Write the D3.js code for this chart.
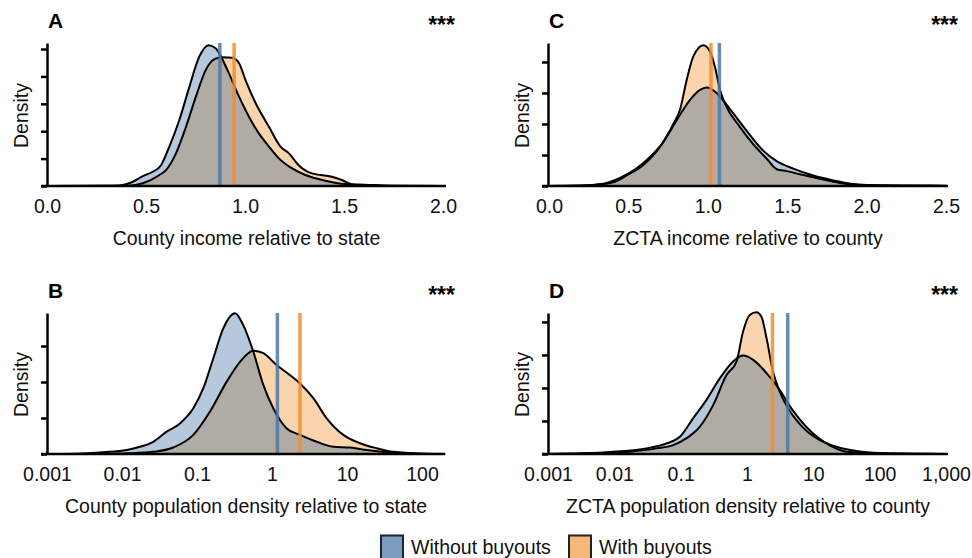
<!DOCTYPE html>
<html>
<head>
<meta charset="utf-8">
<script src="https://cdn.jsdelivr.net/npm/d3@7"></script>
<style>
  html, body { margin: 0; padding: 0; background: #fff; }
  svg { display: block; font-family: "Liberation Sans", Arial, sans-serif; }
</style>
</head>
<body>
<svg id="chart" width="972" height="558"></svg>
<script>
// ---------------- DATA ----------------
// Panel A: County income relative to state  [value, density]
const aWithout = [[0,0],[0.3,0.003],[0.367,0.01],[0.434,0.078],[0.484,0.18],[0.534,0.26],[0.576,0.38],[0.618,0.72],[0.668,1.20],[0.719,1.81],[0.769,2.36],[0.816,2.57],[0.853,2.51],[0.911,2.12],[0.970,1.63],[1.020,1.265],[1.070,0.96],[1.121,0.72],[1.171,0.505],[1.238,0.32],[1.305,0.20],[1.405,0.097],[1.506,0.036],[1.606,0.024],[1.74,0.006],[2.0,0]];
const aWith = [[0,0],[0.41,0.005],[0.484,0.05],[0.568,0.2],[0.601,0.29],[0.652,0.60],[0.702,1.08],[0.752,1.63],[0.802,2.12],[0.844,2.31],[0.886,2.35],[0.936,2.34],[0.970,2.24],[1.003,1.93],[1.054,1.51],[1.121,1.08],[1.179,0.72],[1.221,0.60],[1.271,0.38],[1.338,0.23],[1.439,0.17],[1.489,0.11],[1.539,0.03],[1.6,0.005],[2.0,0]];
const aMeans = { without: 0.873, with: 0.945 };
const aXTicks = [0, 0.5, 1, 1.5, 2];
const aXLabels = ["0.0", "0.5", "1.0", "1.5", "2.0"];
const aYTicks = [0, 0.5, 1, 1.5, 2, 2.5];

// Panel C: ZCTA income relative to county
const cWithout = [[0,0],[0.2,0.005],[0.342,0.035],[0.447,0.13],[0.552,0.285],[0.636,0.47],[0.720,0.71],[0.804,1.06],[0.888,1.39],[0.951,1.55],[0.993,1.59],[1.056,1.50],[1.119,1.31],[1.182,1.10],[1.266,0.82],[1.349,0.57],[1.434,0.40],[1.538,0.28],[1.664,0.17],[1.79,0.09],[1.9,0.035],[2.0,0.015],[2.3,0.008],[2.5,0.005]];
const cWith = [[0,0],[0.1,0.005],[0.279,0.016],[0.405,0.06],[0.489,0.17],[0.594,0.34],[0.699,0.63],[0.783,1.0],[0.825,1.23],[0.867,1.71],[0.909,2.09],[0.972,2.27],[1.014,2.17],[1.045,1.92],[1.077,1.55],[1.108,1.33],[1.203,0.95],[1.287,0.67],[1.371,0.44],[1.434,0.27],[1.497,0.24],[1.58,0.19],[1.707,0.115],[1.83,0.05],[1.95,0.016],[2.2,0.005],[2.5,0.002]];
const cMeans = { without: 1.073, with: 1.02 };
const cXTicks = [0, 0.5, 1, 1.5, 2, 2.5];
const cXLabels = ["0.0", "0.5", "1.0", "1.5", "2.0", "2.5"];
const cYTicks = [0, 0.5, 1, 1.5, 2];

// Panel B: County population density relative to state (log x)
const bWithout = [[0.001,0],[0.0025,0.01],[0.0056,0.05],[0.0116,0.11],[0.0174,0.20],[0.0261,0.34],[0.0394,0.62],[0.0593,0.85],[0.0893,1.27],[0.121,1.82],[0.165,2.66],[0.224,3.49],[0.321,3.91],[0.414,3.58],[0.564,2.84],[0.766,1.92],[1.04,1.27],[1.57,0.71],[2.36,0.53],[3.94,0.34],[6.56,0.20],[11.0,0.18],[18.3,0.11],[33.9,0.05],[63,0.02],[204,0]];
const bWith = [[0.001,0],[0.005,0.005],[0.0126,0.02],[0.0261,0.06],[0.0483,0.18],[0.0893,0.53],[0.149,1.18],[0.249,2.01],[0.374,2.56],[0.564,2.87],[0.766,2.80],[1.15,2.47],[1.74,2.19],[2.36,1.96],[3.56,1.55],[5.36,0.99],[8.93,0.53],[14.9,0.30],[24.9,0.16],[41.4,0.06],[100,0.01],[204,0]];
const bMeans = { without: 1.18, with: 2.36 };
const bXTicks = [0.001, 0.01, 0.1, 1, 10, 100];
const bXLabels = ["0.001", "0.01", "0.1", "1", "10", "100"];
const bYTicks = [0, 1, 2, 3];

// Panel D: ZCTA population density relative to county (log x)
const dWithout = [[0.001,0],[0.00316,0.02],[0.00964,0.07],[0.0306,0.17],[0.0614,0.32],[0.0973,0.52],[0.154,1.08],[0.245,1.64],[0.389,2.29],[0.618,2.80],[0.873,2.98],[1.24,2.85],[1.97,2.45],[3.12,1.94],[4.42,1.45],[6.24,1.05],[9.91,0.62],[17.7,0.26],[31.5,0.07],[100,0.02],[316,0.008],[1000,0]];
const dWith = [[0.001,0],[0.005,0.02],[0.0172,0.07],[0.0434,0.17],[0.0771,0.27],[0.123,0.48],[0.195,0.83],[0.309,1.48],[0.491,2.39],[0.695,2.80],[0.873,3.71],[1.10,4.21],[1.39,4.29],[1.65,4.16],[1.97,3.51],[2.47,2.49],[3.12,1.89],[4.42,1.30],[7.0,0.80],[12.5,0.42],[22.3,0.22],[44.6,0.09],[100,0.03],[316,0.01],[1000,0]];
const dMeans = { without: 4.11, with: 2.42 };
const dXTicks = [0.001, 0.01, 0.1, 1, 10, 100, 1000];
const dXLabels = ["0.001", "0.01", "0.1", "1", "10", "100", "1,000"];
const dYTicks = [0, 1, 2, 3, 4];

const panelLetters = ["A", "B", "C", "D"];
const xTitles = ["County income relative to state", "County population density relative to state",
                 "ZCTA income relative to county", "ZCTA population density relative to county"];
const significance = ["***", "***", "***", "***"];
const legendLabels = ["Without buyouts", "With buyouts"];

// ---------------- STYLE ----------------
const COL = {
  blueFill: "#b6c9dc", orangeFill: "#f9d4ad", overlap: "#b1aba5",
  blueLine: "#4e79a7", orangeLine: "#f28e2b",
  blueSwatch: "#7b9dc0", orangeSwatch: "#f5b77a"
};
const FONT = 19.5;

const svg = d3.select("#chart");

const panels = [
  { id: "A", letter: panelLetters[0], title: xTitles[0], without: aWithout, with: aWith, means: aMeans,
    log: false, domain: [0, 2], range: [47, 443], axisEnd: 446, xTicks: aXTicks, xLabels: aXLabels,
    yTicks: aYTicks, yDomain: [0, 2.61], yRange: [186, 43], left: 47, sig: significance[0], sigX: 455 },
  { id: "B", letter: panelLetters[1], title: xTitles[1], without: bWithout, with: bWith, means: bMeans,
    log: true, domain: [0.001, 100], range: [47, 422], axisEnd: 445, xTicks: bXTicks, xLabels: bXLabels,
    yTicks: bYTicks, yDomain: [0, 3.917], yRange: [454, 313], left: 47, sig: significance[1], sigX: 455 },
  { id: "C", letter: panelLetters[2], title: xTitles[2], without: cWithout, with: cWith, means: cMeans,
    log: false, domain: [0, 2.5], range: [549, 946], axisEnd: 948, xTicks: cXTicks, xLabels: cXLabels,
    yTicks: cYTicks, yDomain: [0, 2.306], yRange: [186, 43], left: 548, sig: significance[2], sigX: 958 },
  { id: "D", letter: panelLetters[3], title: xTitles[3], without: dWithout, with: dWith, means: dMeans,
    log: true, domain: [0.001, 1000], range: [548, 946], axisEnd: 948, xTicks: dXTicks, xLabels: dXLabels,
    yTicks: dYTicks, yDomain: [0, 4.27], yRange: [454, 313], left: 548, sig: significance[3], sigX: 958 }
];

const defs = svg.append("defs");

panels.forEach(p => {
  const x = (p.log ? d3.scaleLog() : d3.scaleLinear()).domain(p.domain).range(p.range);
  const y = d3.scaleLinear().domain(p.yDomain).range(p.yRange);
  const base = y(0);
  const top = p.yRange[1];
  const g = svg.append("g");

  const area = d3.area().x(d => x(d[0])).y0(base).y1(d => y(d[1])).curve(d3.curveMonotoneX);
  const line = d3.line().x(d => x(d[0])).y(d => y(d[1])).curve(d3.curveMonotoneX);

  // fills
  g.append("path").attr("d", area(p.without)).attr("fill", COL.blueFill);
  g.append("path").attr("d", area(p.with)).attr("fill", COL.orangeFill);
  defs.append("clipPath").attr("id", "clip" + p.id).append("path").attr("d", area(p.without));
  g.append("path").attr("d", area(p.with)).attr("fill", COL.overlap).attr("clip-path", `url(#clip${p.id})`);

  // outlines
  [p.without, p.with].forEach(s => {
    g.append("path").attr("d", line(s)).attr("fill", "none").attr("stroke", "#000")
      .attr("stroke-width", 2).attr("stroke-linejoin", "round");
  });

  // mean lines
  g.append("line").attr("x1", x(p.means.without)).attr("x2", x(p.means.without))
    .attr("y1", top).attr("y2", base).attr("stroke", COL.blueLine).attr("stroke-width", 3.5).attr("opacity", 0.85);
  g.append("line").attr("x1", x(p.means.with)).attr("x2", x(p.means.with))
    .attr("y1", top).attr("y2", base).attr("stroke", COL.orangeLine).attr("stroke-width", 3.5).attr("opacity", 0.85);

  // y axis (ticks only, no labels)
  const yAxis = g.append("g").attr("transform", `translate(${p.left},0)`)
    .call(d3.axisLeft(y).tickValues(p.yTicks).tickSize(6).tickSizeOuter(0).tickFormat(""));
  yAxis.selectAll("path,line").attr("stroke", "#000").attr("stroke-width", 2.5);

  // x axis baseline
  g.append("line").attr("x1", p.left - 6).attr("x2", p.axisEnd).attr("y1", base).attr("y2", base)
    .attr("stroke", "#000").attr("stroke-width", 2.5);

  // x axis labels
  const xAxis = g.append("g").attr("transform", `translate(0,${base})`)
    .call(d3.axisBottom(x).tickValues(p.xTicks).tickFormat((d, i) => p.xLabels[i]).tickSize(0).tickPadding(13));
  xAxis.select(".domain").remove();
  xAxis.selectAll("text").attr("font-size", FONT).attr("font-family", "Liberation Sans, Arial, sans-serif").attr("fill", "#111");

  // x title
  g.append("text").attr("x", (p.left + p.axisEnd) / 2).attr("y", base + 59)
    .attr("text-anchor", "middle").attr("font-size", FONT).attr("fill", "#111").text(p.title);

  // y title
  g.append("text").attr("transform", `translate(${p.left - 19.5},${(base + top) / 2 + 1}) rotate(-90)`)
    .attr("text-anchor", "middle").attr("font-size", FONT).attr("fill", "#111").text("Density");

  // panel letter
  g.append("text").attr("x", p.left + 1).attr("y", top - 15).attr("font-size", 21).attr("font-weight", "bold")
    .attr("fill", "#000").text(p.letter);

  // significance
  g.append("text").attr("x", p.sigX).attr("y", top - 10).attr("text-anchor", "end").attr("font-size", 23)
    .attr("font-weight", "bold").attr("fill", "#000").text(p.sig);
});

// legend
const legend = svg.append("g");
const legendItems = [
  { label: legendLabels[0], color: COL.blueSwatch, x: 381 },
  { label: legendLabels[1], color: COL.orangeSwatch, x: 569 }
];
legendItems.forEach(it => {
  legend.append("rect").attr("x", it.x).attr("y", 535.5).attr("width", 22).attr("height", 26)
    .attr("fill", it.color).attr("stroke", "#222").attr("stroke-width", 2);
  legend.append("text").attr("x", it.x + 30).attr("y", 554).attr("font-size", FONT).attr("fill", "#111").text(it.label);
});
</script>
</body>
</html>
